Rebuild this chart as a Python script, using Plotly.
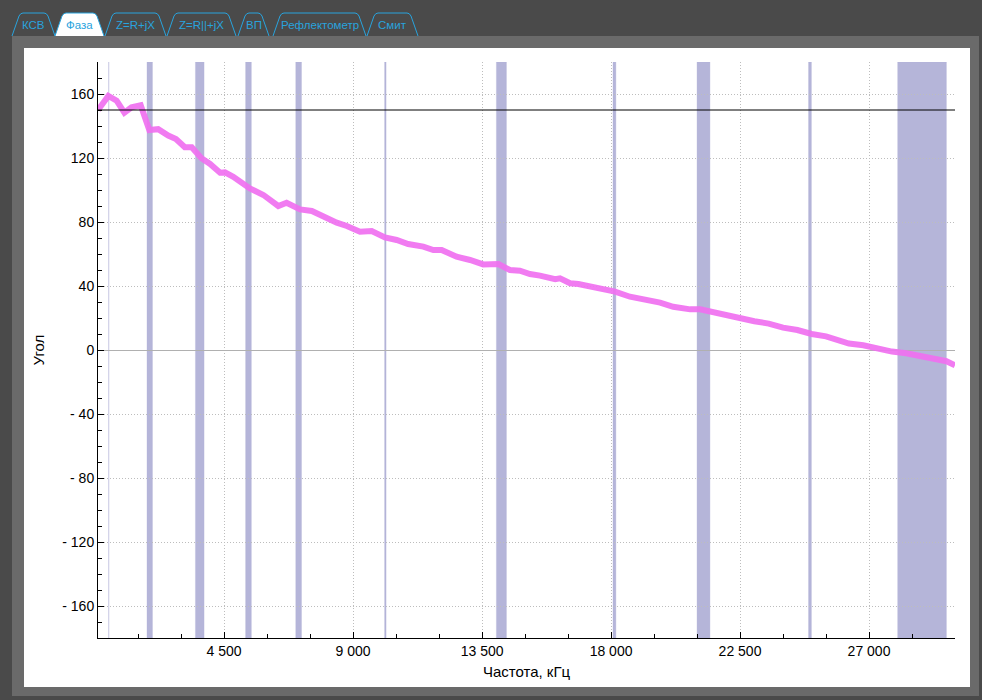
import plotly.graph_objects as go

# ---------------- data ----------------
freq = [100, 460, 750, 1020, 1270, 1590, 1890, 2200, 2550, 2820, 3130, 3370, 3710, 4010,
        4360, 4530, 4820, 5400, 5870, 6160, 6390, 6680, 7150, 7560, 7960, 8430, 8780,
        9240, 9650, 10110, 10520, 10920, 11450, 11800, 12090, 12610, 13080, 13540, 14070,
        14470, 14820, 15170, 15520, 16050, 16220, 16570, 16860, 17270, 17620, 18140,
        18660, 19360, 19710, 20170, 20760, 21110, 21450, 22000, 22500, 23000, 23500,
        24000, 24500, 25000, 25500, 26000, 26300, 26800, 27300, 27800, 28300, 28800,
        29300, 29700, 30000]
phase = [150, 158.8, 155.8, 148.3, 151.7, 153, 137.5, 138, 134, 131.9, 126.7, 126.7, 119.8,
         116.3, 110.8, 111, 108.3, 101, 96.9, 92.7, 90, 92, 87.9, 86.9, 83.3, 79.6, 77.5,
         73.9, 74.4, 70.4, 68.75, 66.25, 64.6, 62.5, 62.5, 58.3, 56.25, 53.5, 53.75, 50,
         49.6, 47.5, 46.5, 44.2, 44.8, 41.7, 41.25, 39.6, 37.9, 36.5, 33.3, 31.25, 29.6,
         27, 25.4, 25.4, 24, 21.5, 19.5, 18, 16.5, 14, 12.5, 10, 8.5, 6, 4, 3, 1, -1, -2,
         -4, -6, -7, -9.5]

band_start = [472, 1810, 3500, 5250, 7000, 10100, 14000, 18068, 21000, 24890, 28000]
band_end = [479, 2000, 3800, 5450, 7200, 10150, 14350, 18168, 21450, 24990, 29700]
ref_level = 150

x_range = [100, 30000]
y_range = [-180, 180]
x_tick_vals = [4500, 9000, 13500, 18000, 22500, 27000]
x_tick_text = ["4 500", "9 000", "13 500", "18 000", "22 500", "27 000"]
x_minor_vals = [1500 * i for i in range(1, 20)]
y_tick_vals = [-160, -120, -80, -40, 0, 40, 80, 120, 160]
y_tick_text = ["- 160", "- 120", "- 80", "- 40", "0", "40", "80", "120", "160"]
y_minor_vals = [10 * i for i in range(-17, 18)]

tab_labels = ["КСВ", "Фаза", "Z=R+jX", "Z=R||+jX", "ВП", "Рефлектометр", "Смит"]
active_tab = "Фаза"

# ---------------- layout geometry (pixels) ----------------
W, H = 982, 700
L, R, T, B = 98, 955, 62, 638


def px(x):
    return (x - L) / (R - L)


def py(y):
    return (B - y) / (B - T)


tab_edges = [(12, 55), (55, 104), (105, 166), (167, 236), (238, 269), (273, 366), (367, 418)]

FONT = "Liberation Sans, Arial, sans-serif"
CYAN = "#29a3dd"

fig = go.Figure()

shapes = []
# frame: outer panel and inner white card
shapes.append(dict(type="rect", xref="paper", yref="paper", x0=px(12), x1=px(979), y0=py(696), y1=py(36),
                   fillcolor="#6a6a6a", line=dict(width=0), layer="below"))
shapes.append(dict(type="rect", xref="paper", yref="paper", x0=px(24), x1=px(970), y0=py(687), y1=py(48),
                   fillcolor="#ffffff", line=dict(width=0), layer="below"))

# tabs
for (a, b), lab in zip(tab_edges, tab_labels):
    path = (f"M {px(a)},{py(36)} L {px(a + 7)},{py(16)} Q {px(a + 8.5)},{py(13)} {px(a + 11)},{py(13)} "
            f"L {px(b - 11)},{py(13)} Q {px(b - 8.5)},{py(13)} {px(b - 7)},{py(16)} L {px(b)},{py(36)}")
    active = lab == active_tab
    shapes.append(dict(type="path", xref="paper", yref="paper", path=path,
                       fillcolor="#ffffff" if active else "#4a4a4a",
                       line=dict(color=CYAN, width=1), layer="below"))

# amateur bands
for s, e in zip(band_start, band_end):
    shapes.append(dict(type="rect", xref="x", yref="y", x0=s, x1=e, y0=y_range[0], y1=y_range[1],
                       fillcolor="#b5b5d9", line=dict(width=1, color="rgba(181,181,217,0.35)"),
                       layer="below"))

fig.update_layout(shapes=shapes)

fig.add_trace(go.Scatter(x=freq, y=phase, mode="lines",
                         line=dict(color="rgba(240,112,240,0.92)", width=6, shape="linear"),
                         hoverinfo="x+y", showlegend=False))

fig.add_hline(y=ref_level, line=dict(color="black", width=1))

annotations = []
for (a, b), lab in zip(tab_edges, tab_labels):
    annotations.append(dict(x=px((a + b) / 2), y=py(25), xref="paper", yref="paper", text=lab,
                            showarrow=False, xanchor="center", yanchor="middle",
                            font=dict(family=FONT, size=11.5, color=CYAN)))

GRID = dict(showgrid=True, gridcolor="#bdbdbd", griddash="1px,2px", gridwidth=1)

fig.update_layout(
    width=W, height=H,
    margin=dict(l=L, r=W - R, t=T, b=H - B, pad=0),
    paper_bgcolor="#4a4a4a",
    plot_bgcolor="rgba(0,0,0,0)",
    annotations=annotations,
    showlegend=False,
    font=dict(family=FONT, size=14, color="black"),
    xaxis=dict(
        range=x_range, tickmode="array", tickvals=x_tick_vals, ticktext=x_tick_text,
        ticks="inside", ticklen=6, tickcolor="black", showline=True, linecolor="black", linewidth=1,
        zeroline=False, **GRID,
        tickfont=dict(family=FONT, size=14, color="black"),
        minor=dict(tickmode="array", tickvals=x_minor_vals, ticks="inside", ticklen=4,
                   tickcolor="black", showgrid=False),
        title=dict(text="Частота, кГц", font=dict(family=FONT, size=15, color="black"), standoff=8),
        fixedrange=True,
    ),
    yaxis=dict(
        range=y_range, tickmode="array", tickvals=y_tick_vals, ticktext=y_tick_text,
        ticks="inside", ticklen=6, tickcolor="black", showline=True, linecolor="black", linewidth=1,
        **GRID,
        zeroline=True, zerolinecolor="#b0b0b0", zerolinewidth=1,
        tickfont=dict(family=FONT, size=14, color="black"),
        minor=dict(tickmode="array", tickvals=y_minor_vals, ticks="inside", ticklen=4,
                   tickcolor="black", showgrid=False),
        title=dict(text="Угол", font=dict(family=FONT, size=15, color="black"), standoff=14),
        fixedrange=True,
    ),
)

fig.write_html("out.html", config={"displayModeBar": False},
               post_script="document.body.style.margin='0';document.body.style.overflow='hidden';")
